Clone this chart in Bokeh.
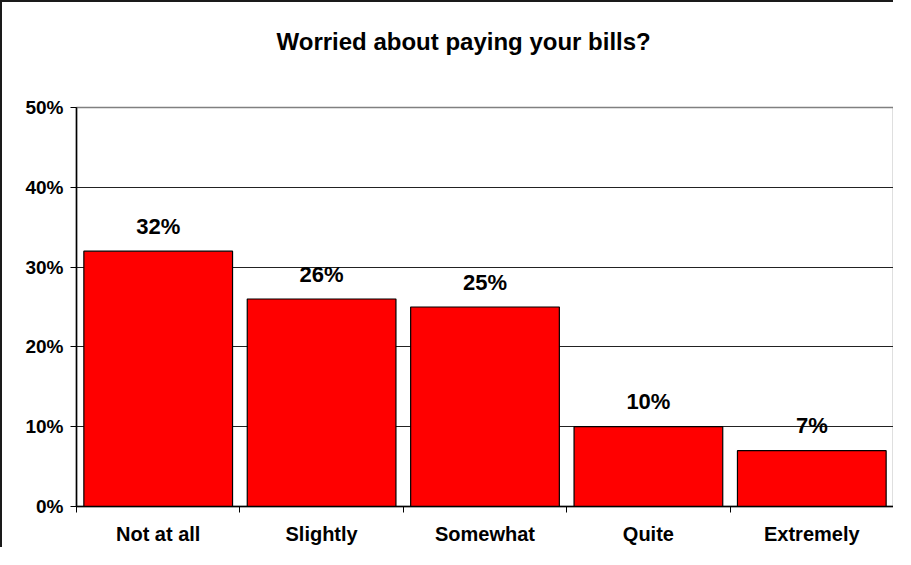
from bokeh.plotting import figure
from bokeh.models import (ColumnDataSource, Range1d, FixedTicker, PrintfTickFormatter, Title)
from bokeh.core.properties import value
from bokeh.embed import file_html
from bokeh.resources import INLINE

# ---- data ----
categories = ["Not at all", "Slightly", "Somewhat", "Quite", "Extremely"]
percents = [32, 26, 25, 10, 7]
y_ticks = [0, 10, 20, 30, 40, 50]
title_text = "Worried about paying your bills?"

FONT = "Liberation Sans"

xpos = [i + 0.5 for i in range(len(categories))]
labels = [f"{v}%" for v in percents]
src = ColumnDataSource(dict(x=xpos, top=percents, label=labels))

p = figure(width=893, height=547, output_backend="svg", toolbar_location=None,
           x_range=Range1d(0, len(categories)), y_range=Range1d(0, 50),
           min_border_left=74, min_border_right=2, min_border_top=105, min_border_bottom=43,
           background_fill_color="white", border_fill_color="white")
p.styles = {"border-left": "2px solid #1a1a1a", "border-top": "2px solid #1a1a1a"}

# empty spacer panel between the frame and the title
spacer = Title(text=" ", text_font=FONT, text_font_size="12px", standoff=37)
p.add_layout(spacer, "above")
title = Title(text=title_text, align="left", offset=200, text_font=FONT,
              text_font_size="24px", text_font_style="bold", text_color="black", standoff=0)
p.add_layout(title, "above")

p.outline_line_color = "#808080"
p.outline_line_width = 1.5

p.vbar(x="x", top="top", width=0.91, bottom=0, source=src,
       fill_color="#FF0000", line_color="black", line_width=1.2)

p.text(x="x", y="top", text="label", source=src, text_align="center",
       text_baseline="alphabetic", y_offset=-25, text_font=value(FONT),
       text_font_size="22px", text_font_style="bold", text_color="black")

# y axis
p.yaxis.ticker = FixedTicker(ticks=y_ticks)
p.yaxis.formatter = PrintfTickFormatter(format="%d%%")
p.yaxis.major_label_text_font = FONT
p.yaxis.major_label_text_font_size = "19px"
p.yaxis.major_label_text_font_style = "bold"
p.yaxis.major_label_text_color = "black"
p.yaxis.axis_line_color = "black"
p.yaxis.axis_line_width = 1.5
p.yaxis.major_tick_in = 0
p.yaxis.major_tick_out = 6
p.yaxis.major_tick_line_color = "black"
p.yaxis.minor_tick_line_color = None
p.yaxis.major_label_standoff = 7

# x axis: labels at centers, ticks at boundaries
p.xaxis.ticker = FixedTicker(ticks=xpos, minor_ticks=list(range(len(categories) + 1)))
p.xaxis.major_label_overrides = {x: c for x, c in zip(xpos, categories)}
p.xaxis.major_label_text_font = FONT
p.xaxis.major_label_text_font_size = "20px"
p.xaxis.major_label_text_font_style = "bold"
p.xaxis.major_label_text_color = "black"
p.xaxis.axis_line_color = "black"
p.xaxis.axis_line_width = 1.5
p.xaxis.major_tick_in = 0
p.xaxis.major_tick_out = 0
p.xaxis.minor_tick_in = 0
p.xaxis.minor_tick_out = 6
p.xaxis.minor_tick_line_color = "black"
p.xaxis.major_label_standoff = 10

p.xgrid.grid_line_color = None
p.ygrid.grid_line_color = "#222222"
p.ygrid.grid_line_width = 1

open("out.html", "w").write(file_html(p, INLINE))
